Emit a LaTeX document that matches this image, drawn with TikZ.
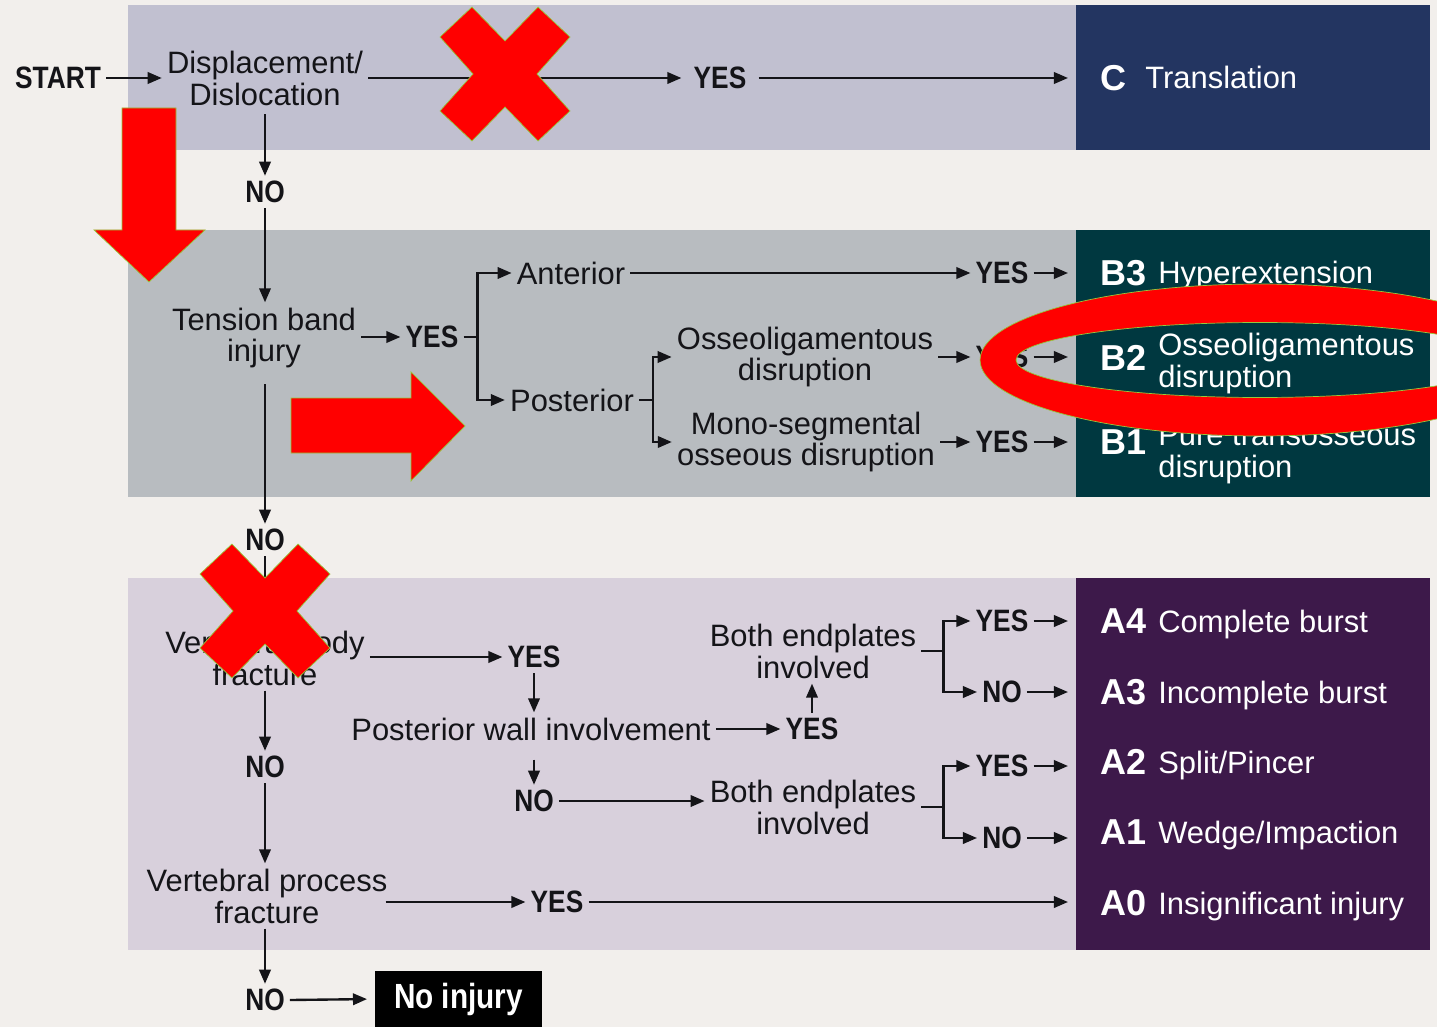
\documentclass[tikz,border=0pt]{standalone}
\usepackage{fontspec}
\setmainfont{Liberation Sans}
\newfontfamily\cbold[FakeStretch=0.85]{Liberation Sans Bold}
\newfontfamily\lbold{Liberation Sans Bold}
\usetikzlibrary{arrows.meta,calc}
\definecolor{pagebg}{RGB}{242,239,236}
\definecolor{topbg}{RGB}{193,192,208}
\definecolor{midbg}{RGB}{184,188,192}
\definecolor{botbg}{RGB}{216,208,220}
\definecolor{cC}{RGB}{35,53,97}
\definecolor{bC}{RGB}{0,56,64}
\definecolor{aC}{RGB}{61,25,74}
\definecolor{ink}{RGB}{20,20,24}
\definecolor{mark}{RGB}{255,0,0}
\definecolor{markedge}{RGB}{150,200,60}
\begin{document}
\begin{tikzpicture}[x=0.02cm,y=-0.02cm,
  txt/.style={font=\fontsize{17.6}{18.2}\selectfont, text=ink, inner sep=0pt, outer sep=3pt, align=center},
  lbl/.style={font=\cbold\fontsize{17.6}{18}\selectfont, text=ink, inner sep=0pt, outer sep=3pt},
  code/.style={font=\lbold\fontsize{20.5}{21}\selectfont, text=white, inner sep=0pt, anchor=base west},
  desc/.style={font=\fontsize{17.6}{18.2}\selectfont, text=white, inner sep=0pt, anchor=base west, align=left},
  catbox/.style={inner sep=0pt, outer sep=0pt, minimum width=7.08cm, anchor=north west},
  arr/.style={draw=ink, line width=1.35pt, -{Triangle[length=8pt,width=6.5pt]}},
  ln/.style={draw=ink, line width=1.35pt},
  tobox/.style={arr, shorten >=0.16cm},
  redmark/.style={fill=mark, draw=markedge, line width=0.4pt},
  redx/.pic={\path[redmark] (-33,-67) -- (0,-33) -- (33,-67) -- (65,-37) -- (32,0) -- (65,37) -- (33,67) -- (0,33) -- (-33,67) -- (-65,37) -- (-32,0) -- (-65,-37) -- cycle;}
]
\fill[pagebg] (0,0) rectangle (1437,1027);
\useasboundingbox (0,0) rectangle (1437,1027);
% bands
\fill[topbg] (128,5) rectangle (1076,150);
\fill[midbg] (128,230) rectangle (1076,497);
\fill[botbg] (128,578) rectangle (1076,950);
\node[catbox, fill=cC, minimum height=2.9cm] (cbox) at (1076,5) {};
\node[catbox, fill=bC, minimum height=5.34cm] (bbox) at (1076,230) {};
\node[catbox, fill=aC, minimum height=7.44cm] (abox) at (1076,578) {};

% category labels
\node[code] (cc) at (1100,91) {C};
\node[desc] (ct) at (1145,89) {Translation};
\node[code] (b3) at (1100,286) {B3};
\node[desc] (b3t) at (1158,284) {Hyperextension};
\node[code] (b2) at (1100,370) {B2};
\node[desc] (b2t) at (1158,387) {Osseoligamentous\\disruption};
\node[code] (b1) at (1100,454) {B1};
\node[desc] (b1t) at (1158,477) {Pure transosseous\\disruption};
\node[code] (a4) at (1100,633) {A4};
\node[desc] (a4t) at (1158,632) {Complete burst};
\node[code] (a3) at (1100,704) {A3};
\node[desc] (a3t) at (1158,703) {Incomplete burst};
\node[code] (a2) at (1100,774) {A2};
\node[desc] (a2t) at (1158,773) {Split/Pincer};
\node[code] (a1) at (1100,844) {A1};
\node[desc] (a1t) at (1158,843) {Wedge/Impaction};
\node[code] (a0) at (1100,915) {A0};
\node[desc] (a0t) at (1158,914) {Insignificant injury};

% top section
\node[lbl] (start) at (58,78) {START};
\node[txt] (disp) at (265,78) {Displacement/\\Dislocation};
\node[lbl] (yesC) at (720,78) {YES};
\draw[arr] (start.east) -- (start.east -| disp.west);
\draw[arr, shorten >=4pt] (disp.east) -- (disp.east -| yesC.west);
\draw[tobox, shorten <=4pt] (yesC.east) -- (yesC.east -| cbox.west);
\node[lbl] (noA) at (265,192) {NO};
\draw[arr, shorten <=2pt] (disp.south) -- (noA.north);

% middle section
\node[txt] (tens) at (264,338) {Tension band\\injury};
\draw[arr] (noA.south) -- (noA.south |- tens.north);
\node[lbl] (yesB) at (432,337) {YES};
\draw[arr] (tens.east |- yesB) -- (yesB.west);
\node[txt] (ant) at (571,273) {Anterior};
\node[txt] (post) at (572,400) {Posterior};
\coordinate (brB) at ($(yesB.east)+(14,0)$);
\draw[ln] (yesB.east) -- (brB);
\draw[arr] (brB) |- (ant.west);
\draw[arr] (brB) |- (post.west);
\node[lbl] (yesB3) at (1002,273) {YES};
\draw[arr] (ant.east) -- (ant.east -| yesB3.west);
\draw[tobox] (yesB3.east) -- (yesB3.east -| bbox.west);
\node[txt] (osl) at (805,357) {Osseoligamentous\\disruption};
\node[txt] (mono) at (806,442) {Mono-segmental\\osseous disruption};
\coordinate (brP) at ($(post.east)+(14,0)$);
\draw[ln] (post.east) -- (brP);
\draw[arr] (brP) |- (osl.west);
\draw[arr] (brP) |- (mono.west);
\node[lbl] (yesB2) at (1002,357) {YES};
\draw[arr] (osl.east) -- (osl.east -| yesB2.west);
\draw[tobox] (yesB2.east) -- (yesB2.east -| bbox.west);
\node[lbl] (yesB1) at (1002,442) {YES};
\draw[arr] (mono.east) -- (mono.east -| yesB1.west);
\draw[tobox] (yesB1.east) -- (yesB1.east -| bbox.west);

% bottom section
\node[lbl] (noB) at (265,540) {NO};
\draw[arr, shorten <=6pt] (tens.south -| noB) -- (noB.north);
\node[txt] (vbody) at (265,658) {Vertebral body\\fracture};
\draw[arr] (noB.south) -- (vbody.north);
\node[lbl] (yesA) at (534,657) {YES};
\draw[arr] (vbody.east |- yesA) -- (yesA.west);
\node[txt] (pwall) at (531,729) {Posterior wall involvement};
\draw[arr] (yesA.south) -- (yesA.south |- pwall.north);
\node[lbl] (yesA2) at (812,729) {YES};
\draw[arr] (pwall.east) -- (pwall.east -| yesA2.west);
\node[txt] (both1) at (813,651) {Both endplates\\involved};
\draw[arr] (yesA2.north) -- (yesA2.north |- both1.south);
\coordinate (br1) at ($(both1.east)+(22,0)$);
\node[lbl] (yesA4) at (1002,621) {YES};
\node[lbl] (noA3) at (1002,692) {NO};
\draw[ln] (both1.east) -- (br1);
\draw[arr] (br1) |- (yesA4.west);
\draw[arr] (br1) |- (noA3.west);
\draw[tobox] (yesA4.east) -- (yesA4.east -| abox.west);
\draw[tobox] (noA3.east) -- (noA3.east -| abox.west);
\node[lbl] (noA5) at (534,801) {NO};
\draw[arr, shorten <=8pt] (pwall.south -| noA5) -- (noA5.north);
\node[txt] (both2) at (813,807) {Both endplates\\involved};
\draw[arr] (noA5.east) -- (noA5.east -| both2.west);
\coordinate (br2) at ($(both2.east)+(22,0)$);
\node[lbl] (yesA2b) at (1002,766) {YES};
\node[lbl] (noA1) at (1002,838) {NO};
\draw[ln] (both2.east) -- (br2);
\draw[arr] (br2) |- (yesA2b.west);
\draw[arr] (br2) |- (noA1.west);
\draw[tobox] (yesA2b.east) -- (yesA2b.east -| abox.west);
\draw[tobox] (noA1.east) -- (noA1.east -| abox.west);
\node[lbl] (noC) at (265,767) {NO};
\draw[arr] (vbody.south) -- (noC.north);
\node[txt] (vproc) at (267,896) {Vertebral process\\fracture};
\draw[arr] (noC.south) -- (noC.south |- vproc.north);
\node[lbl] (yesA0) at (557,902) {YES};
\draw[arr, shorten <=-4pt] (vproc.east |- yesA0) -- (yesA0.west);
\draw[tobox] (yesA0.east) -- (yesA0.east -| abox.west);
\node[lbl] (noD) at (265,1000) {NO};
\draw[arr] (vproc.south -| noD) -- (noD.north);
\node[fill=black, text=white, font=\cbold\fontsize{19.9}{20}\selectfont, inner sep=0pt, outer sep=0pt, minimum width=3.34cm, minimum height=1.12cm] (noinj) at (458.5,999) {No injury};
\draw[arr, shorten >=0.16cm] (noD.east) -- (noinj.west);

% red annotations
\pic at (505,74) {redx};
\pic at (265,611) {redx};
\path[redmark] (122,108) -- (176,108) -- (176,230) -- (205,230) -- (149,282) -- (94,230) -- (122,230) -- cycle;
\path[redmark] (291,398) -- (411,398) -- (411,372) -- (465,426) -- (411,481) -- (411,453) -- (291,453) -- cycle;
\path[fill=mark, even odd rule] (1260,360) ellipse [x radius=5.6cm, y radius=1.52cm] (1260,360) ellipse [x radius=4.88cm, y radius=0.75cm];
\draw[markedge, line width=0.4pt] (1260,360) ellipse [x radius=5.6cm, y radius=1.52cm];
\draw[markedge, line width=0.4pt] (1260,360) ellipse [x radius=4.88cm, y radius=0.75cm];
\end{tikzpicture}
\end{document}
